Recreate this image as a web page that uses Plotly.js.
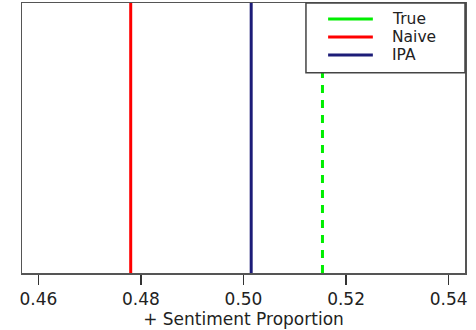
<!DOCTYPE html>
<html>
<head>
<meta charset="utf-8">
<script src="https://cdn.plot.ly/plotly-3.0.1.min.js"></script>
<style>html,body{margin:0;padding:0;background:#fff;}#chart{width:476px;height:330px;}</style>
</head>
<body>
<div id="chart"></div>
<script>
var seriesNames = ["True", "Naive", "IPA"];
var seriesValues = [0.5154, 0.4780, 0.5015];
var seriesColors = ["#00ee00", "#ff0000", "#1c1c78"];
var seriesDash = ["8px,7px", "solid", "solid"];
var tickVals = [0.46, 0.48, 0.50, 0.52, 0.54];
var tickLabels = ["0.46", "0.48", "0.50", "0.52", "0.54"];

var traces = seriesNames.map(function (name, i) {
  return {
    type: "scatter",
    mode: "lines",
    name: name,
    x: [seriesValues[i], seriesValues[i]],
    y: [0, 1],
    line: { color: seriesColors[i], width: 3, dash: seriesDash[i] },
    hoverinfo: "skip",
    showlegend: false
  };
});

// Legend box drawn in paper coordinates (solid sample lines, as in the reference)
var legendRows = [0.941, 0.874, 0.807];
var shapes = [{
  type: "rect", xref: "paper", yref: "paper",
  x0: 0.641, x1: 1, y0: 0.742, y1: 1,
  line: { color: "#444", width: 1.5 }, fillcolor: "#fff", layer: "above"
}];
var annotations = [];
seriesNames.forEach(function (name, i) {
  shapes.push({
    type: "line", xref: "paper", yref: "paper",
    x0: 0.691, x1: 0.792, y0: legendRows[i], y1: legendRows[i],
    line: { color: seriesColors[i], width: 3 }, layer: "above"
  });
  annotations.push({
    xref: "paper", yref: "paper", x: 0.833, y: legendRows[i],
    xanchor: "left", yanchor: "middle", showarrow: false,
    height: 16, borderpad: 0,
    text: name, font: { size: 15.5, color: "#222" }
  });
});

var layout = {
  width: 476, height: 330,
  margin: { l: 22, r: 11, t: 3, b: 57 },
  paper_bgcolor: "#fff", plot_bgcolor: "#fff",
  font: { family: "DejaVu Sans, sans-serif", color: "#222" },
  xaxis: {
    range: [0.4568, 0.5432],
    tickvals: tickVals, ticktext: tickLabels,
    ticks: "outside", ticklen: 10, tickwidth: 1.5, tickcolor: "#333",
    showgrid: false, zeroline: false,
    showline: true, mirror: true, linecolor: "#555", linewidth: 1.5,
    tickfont: { size: 17, color: "#222" },
    title: { text: "+ Sentiment Proportion", font: { size: 17, color: "#222" }, standoff: 2 }
  },
  yaxis: {
    range: [0, 1], showticklabels: false, ticks: "", showgrid: false, zeroline: false,
    showline: true, mirror: true, linecolor: "#555", linewidth: 1.5
  },
  showlegend: false,
  shapes: shapes,
  annotations: annotations
};

Plotly.newPlot("chart", traces, layout, { displayModeBar: false, staticPlot: true });
</script>
</body>
</html>
